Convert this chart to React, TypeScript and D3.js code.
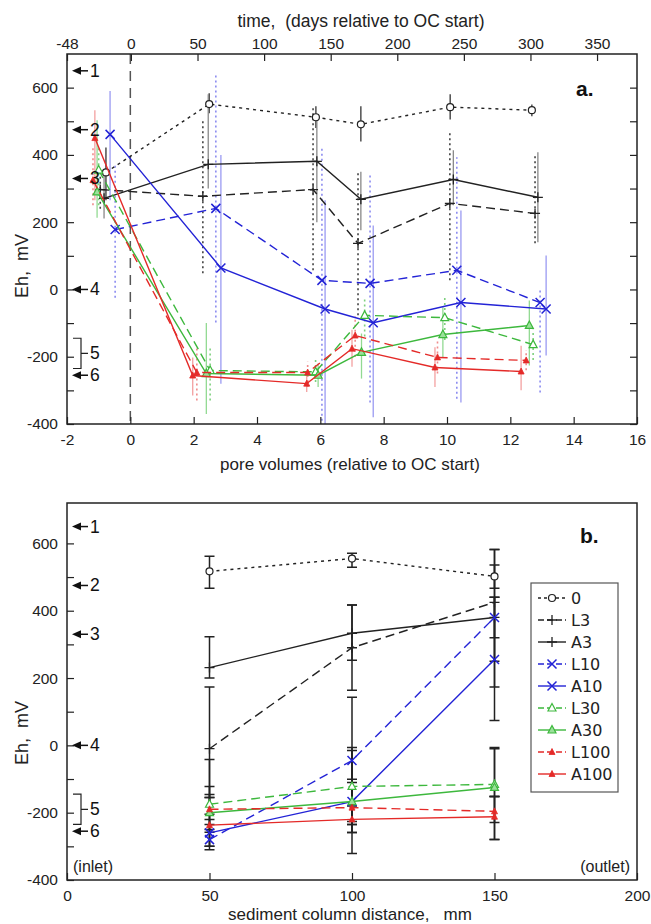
import React, { useEffect, useRef } from 'react';
import * as d3 from 'd3';

const seriesNames = ['0', 'L3', 'A3', 'L10', 'A10', 'L30', 'A30', 'L100', 'A100'];

// panel a: pore volumes and Eh (mV), one row per series
const poreVolumes = [
  [-0.77, 2.49, 5.86, 7.28, 10.1, 12.68],
  [-0.95, 2.29, 5.77, 7.19, 10.09, 12.78],
  [-0.83, 2.46, 5.89, 7.28, 10.2, 12.87],
  [-0.48, 2.7, 6.05, 7.57, 10.31, 12.94],
  [-0.64, 2.86, 6.15, 7.67, 10.44, 13.13],
  [-1.0, 2.52, 5.85, 7.4, 9.93, 12.72],
  [-1.05, 2.4, 5.93, 7.3, 9.87, 12.6],
  [-1.18, 2.1, 5.6, 7.1, 9.7, 12.5],
  [-1.12, 1.97, 5.57, 7.0, 9.62, 12.34],
];
const ehA = [
  [348, 551, 512, 491, 542, 533],
  [297, 277, 297, 137, 256, 226],
  [271, 372, 381, 268, 327, 274],
  [178, 241, 27, 18, 57, -39],
  [461, 64, -58, -99, -39, -58],
  [355, -241, -245, -77, -84, -164],
  [290, -250, -255, -187, -134, -107],
  [325, -247, -247, -137, -202, -211],
  [450, -256, -280, -176, -232, -244],
];
const ehLowA = [
  [265, 524, 480, 440, 505, 515],
  [240, 48, 57, -77, 27, 137],
  [211, 300, 200, 176, 250, 140],
  [-25, -98, -390, -336, -325, -306],
  [265, -280, -400, -380, -336, -196],
  [250, -330, -275, -140, -150, -210],
  [213, -370, -290, -265, -202, -226],
  [250, -330, -290, -200, -250, -240],
  [265, -315, -305, -230, -290, -300],
];
const ehHighA = [
  [422, 583, 545, 545, 580, 550],
  [350, 503, 548, 347, 467, 405],
  [354, 580, 515, 350, 414, 408],
  [370, 637, 423, 348, 393, 0],
  [590, 400, 265, 190, 235, 101],
  [420, -170, -205, -30, -20, -120],
  [503, -100, -220, -131, -53, -33],
  [420, -167, -215, -80, -150, -180],
  [533, -202, -250, -120, -172, -167],
];

const poreTicks = [-2, 0, 2, 4, 6, 8, 10, 12, 14, 16];
const dayTicks = [-48, 0, 50, 100, 150, 200, 250, 300, 350];
const ehTicks = [-400, -300, -200, -100, 0, 100, 200, 300, 400, 500, 600];

// panel b: distance along the column (mm)
const distances = [50, 100, 150];
const distTicks = [0, 50, 100, 150, 200];
const ehB = [
  [517, 555, 502],
  [-10, 290, 425],
  [231, 333, 380],
  [-280, -45, 380],
  [-260, -167, 255],
  [-175, -122, -116],
  [-200, -167, -125],
  [-190, -185, -196],
  [-237, -220, -212],
];
const ehLowB = [
  [467, 529, 467],
  [-155, 164, 250],
  [200, 253, 320],
  [-310, -235, 173],
  [-300, -321, 74],
  [-205, -226, -152],
  [-235, -259, -229],
  [-258, -259, -280],
  [-300, -235, -280],
];
const ehHighB = [
  [562, 571, 536],
  [173, 417, 582],
  [323, 417, 440],
  [-250, 143, 582],
  [-220, -15, 440],
  [-146, -6, -6],
  [-155, -101, -10],
  [-122, -110, -152],
  [-42, -180, -152],
];

// reference Eh levels marked by arrows
const refLevels = [650, 475, 330, 0, -255];
const refLabels = ['1', '2', '3', '4', '6'];
const bracketFive = [-235, -145];

const BLUE = '#2323d6';
const GREEN = '#3db83d';
const RED = '#e42a28';
const styles = [
  { color: '#222', dash: '3,4', marker: 'circle', bar: '#333', barDash: null },
  { color: '#222', dash: '9,5', marker: 'plus', bar: '#444', barDash: '2,3' },
  { color: '#222', dash: null, marker: 'plus', bar: '#888', barDash: null },
  { color: BLUE, dash: '9,5', marker: 'cross', bar: '#8c8cf0', barDash: '2,3' },
  { color: BLUE, dash: null, marker: 'cross', bar: '#9a9af2', barDash: null },
  { color: GREEN, dash: '9,5', marker: 'triOpen', bar: '#7fd07f', barDash: '2,3' },
  { color: GREEN, dash: null, marker: 'triFill', bar: '#92da92', barDash: null },
  { color: RED, dash: '9,5', marker: 'triSmall', bar: '#f08c8c', barDash: '2,3' },
  { color: RED, dash: null, marker: 'triSmall', bar: '#f3a0a0', barDash: null },
];

const FONT = '"Liberation Sans", Arial, sans-serif';

function marker(g: any, kind: string, cx: number, cy: number, color: string) {
  if (kind === 'circle') {
    g.append('circle').attr('cx', cx).attr('cy', cy).attr('r', 3.5)
      .attr('fill', 'white').attr('stroke', color).attr('stroke-width', 1.2);
  } else if (kind === 'plus') {
    g.append('path').attr('d', `M${cx - 5},${cy}H${cx + 5}M${cx},${cy - 5}V${cy + 5}`)
      .attr('stroke', color).attr('stroke-width', 1.3).attr('fill', 'none');
  } else if (kind === 'cross') {
    g.append('path')
      .attr('d', `M${cx - 4.5},${cy - 4.5}L${cx + 4.5},${cy + 4.5}M${cx - 4.5},${cy + 4.5}L${cx + 4.5},${cy - 4.5}`)
      .attr('stroke', color).attr('stroke-width', 1.5).attr('fill', 'none');
  } else if (kind === 'triOpen') {
    g.append('path').attr('d', `M${cx},${cy - 4.5}L${cx + 4},${cy + 3}L${cx - 4},${cy + 3}Z`)
      .attr('fill', 'white').attr('stroke', color).attr('stroke-width', 1.2);
  } else if (kind === 'triFill') {
    g.append('path').attr('d', `M${cx},${cy - 4.5}L${cx + 4},${cy + 3}L${cx - 4},${cy + 3}Z`)
      .attr('fill', '#9be09b').attr('stroke', color).attr('stroke-width', 1.2);
  } else {
    g.append('path').attr('d', `M${cx},${cy - 3.5}L${cx + 3},${cy + 2.5}L${cx - 3},${cy + 2.5}Z`)
      .attr('fill', color).attr('stroke', color).attr('stroke-width', 0.8);
  }
}

// frame, left axis, reference arrows and y title common to both panels
function frameAndLeft(g: any, y: any, x0: number, x1: number, titleY: number) {
  const [yb, yt] = y.range();
  g.append('rect').attr('x', x0).attr('y', yt).attr('width', x1 - x0).attr('height', yb - yt)
    .attr('fill', 'none').attr('stroke', '#222').attr('stroke-width', 1.5);

  const left = g.append('g').attr('transform', `translate(${x0},0)`)
    .call(d3.axisLeft(y).tickValues(ehTicks).tickSizeInner(-7).tickSizeOuter(0).tickPadding(9)
      .tickFormat((d: any) => (d % 200 === 0 ? String(d) : '')));
  left.select('.domain').remove();
  left.selectAll('line').attr('stroke', '#222').attr('stroke-width', 1.2);
  left.selectAll('text').attr('font-size', 15.5).attr('font-family', FONT).attr('fill', '#222');

  refLevels.forEach((v, i) => {
    const yy = y(v);
    g.append('path').attr('d', `M${x0 + 5},${yy}L${x0 + 14},${yy - 4}L${x0 + 14},${yy + 4}Z`).attr('fill', '#111');
    g.append('line').attr('x1', x0 + 13).attr('x2', x0 + 21).attr('y1', yy).attr('y2', yy)
      .attr('stroke', '#111').attr('stroke-width', 1.5);
    g.append('text').attr('x', x0 + 23).attr('y', yy + 6).text(refLabels[i])
      .attr('font-size', 17.5).attr('font-family', FONT).attr('fill', '#111');
  });
  const ya = y(bracketFive[1]);
  const yb5 = y(bracketFive[0]);
  g.append('path').attr('d', `M${x0 + 6},${ya}H${x0 + 14}V${yb5}H${x0 + 6}M${x0 + 14},${(ya + yb5) / 2}H${x0 + 21}`)
    .attr('fill', 'none').attr('stroke', '#222').attr('stroke-width', 1.2);
  g.append('text').attr('x', x0 + 23).attr('y', (ya + yb5) / 2 + 6).text('5')
    .attr('font-size', 17.5).attr('font-family', FONT).attr('fill', '#111');

  g.append('text').attr('transform', `translate(28,${titleY}) rotate(-90)`).attr('text-anchor', 'middle')
    .text('Eh,  mV').attr('font-size', 18).attr('font-family', FONT).attr('fill', '#222')
    .style('white-space', 'pre');
}

function drawChart(node: SVGSVGElement) {
  const svg = d3.select(node);
  svg.selectAll('*').remove();

  // ---------- panel a ----------
  const xa = d3.scaleLinear().domain([-2, 16]).range([67, 637]);
  const xd = d3.scaleLinear().domain([-48, 380]).range([67, 637]);
  const ya = d3.scaleLinear().domain([-400, 700]).range([424, 54]);
  const ga = svg.append('g');

  ga.append('line').attr('x1', xa(0)).attr('x2', xa(0)).attr('y1', 54).attr('y2', 424)
    .attr('stroke', '#555').attr('stroke-width', 1.5).attr('stroke-dasharray', '10,7');

  seriesNames.forEach((_, s) => {
    const st = styles[s];
    poreVolumes[s].forEach((pv, i) => {
      ga.append('line').attr('x1', xa(pv)).attr('x2', xa(pv))
        .attr('y1', ya(Math.max(-400, ehLowA[s][i]))).attr('y2', ya(ehHighA[s][i]))
        .attr('stroke', st.bar).attr('stroke-width', st.barDash ? 1.6 : 1.3)
        .attr('stroke-dasharray', st.barDash);
    });
  });

  seriesNames.forEach((_, s) => {
    const st = styles[s];
    const pts: [number, number][] = poreVolumes[s].map((pv, i) => [xa(pv), ya(ehA[s][i])]);
    ga.append('path').attr('d', d3.line()(pts)).attr('fill', 'none').attr('stroke', st.color)
      .attr('stroke-width', 1.4).attr('stroke-dasharray', st.dash);
    pts.forEach(p => marker(ga, st.marker, p[0], p[1], st.color));
  });

  frameAndLeft(ga, ya, 67, 637, 266);

  const right = ga.append('g').attr('transform', 'translate(637,0)')
    .call(d3.axisRight(ya).tickValues(ehTicks).tickSizeInner(-7).tickSizeOuter(0).tickFormat(() => ''));
  right.select('.domain').remove();
  right.selectAll('line').attr('stroke', '#222').attr('stroke-width', 1.2);

  const bottom = ga.append('g').attr('transform', 'translate(0,424)')
    .call(d3.axisBottom(xa).tickValues(poreTicks).tickSizeInner(-7).tickSizeOuter(0).tickPadding(10)
      .tickFormat((d: any) => String(d)));
  bottom.select('.domain').remove();
  bottom.selectAll('line').attr('stroke', '#222').attr('stroke-width', 1.2);
  bottom.selectAll('text').attr('font-size', 15.5).attr('font-family', FONT).attr('fill', '#222');

  const top = ga.append('g').attr('transform', 'translate(0,54)')
    .call(d3.axisTop(xd).tickValues(dayTicks).tickSizeInner(-7).tickSizeOuter(0).tickPadding(5)
      .tickFormat((d: any) => String(d)));
  top.select('.domain').remove();
  top.selectAll('line').attr('stroke', '#222').attr('stroke-width', 1.2);
  top.selectAll('text').attr('font-size', 15.5).attr('font-family', FONT).attr('fill', '#222');

  ga.append('text').attr('x', 361).attr('y', 27).attr('text-anchor', 'middle').style('white-space', 'pre')
    .text('time,  (days relative to OC start)').attr('font-size', 17.5).attr('font-family', FONT).attr('fill', '#222');
  ga.append('text').attr('x', 350).attr('y', 470).attr('text-anchor', 'middle')
    .text('pore volumes (relative to OC start)').attr('font-size', 17).attr('font-family', FONT).attr('fill', '#222');
  ga.append('text').attr('x', 576).attr('y', 96).text('a.')
    .attr('font-size', 21).attr('font-weight', 'bold').attr('font-family', FONT).attr('fill', '#111');

  // ---------- panel b ----------
  const xb = d3.scaleLinear().domain([0, 200]).range([67, 637]);
  const yb = d3.scaleLinear().domain([-400, 720]).range([880, 503]);
  const gb = svg.append('g');

  seriesNames.forEach((_, s) => {
    distances.forEach((dist, i) => {
      const cx = xb(dist);
      const lo = yb(ehLowB[s][i]);
      const hi = yb(ehHighB[s][i]);
      gb.append('path').attr('d', `M${cx},${lo}V${hi}M${cx - 5},${lo}H${cx + 5}M${cx - 5},${hi}H${cx + 5}`)
        .attr('fill', 'none').attr('stroke', '#222').attr('stroke-width', 1.5);
    });
  });

  seriesNames.forEach((_, s) => {
    const st = styles[s];
    const pts: [number, number][] = distances.map((dist, i) => [xb(dist), yb(ehB[s][i])]);
    gb.append('path').attr('d', d3.line()(pts)).attr('fill', 'none').attr('stroke', st.color)
      .attr('stroke-width', 1.4).attr('stroke-dasharray', st.dash);
    pts.forEach(p => marker(gb, st.marker, p[0], p[1], st.color));
  });

  frameAndLeft(gb, yb, 67, 637, 733);

  const bottomB = gb.append('g').attr('transform', 'translate(0,880)')
    .call(d3.axisBottom(xb).tickValues(distTicks).tickSizeInner(-7).tickSizeOuter(0).tickPadding(10)
      .tickFormat((d: any) => String(d)));
  bottomB.select('.domain').remove();
  bottomB.selectAll('line').attr('stroke', '#222').attr('stroke-width', 1.2);
  bottomB.selectAll('text').attr('font-size', 15.5).attr('font-family', FONT).attr('fill', '#222');

  gb.append('text').attr('x', 350).attr('y', 920).attr('text-anchor', 'middle').style('white-space', 'pre')
    .text('sediment column distance,   mm').attr('font-size', 17).attr('font-family', FONT).attr('fill', '#222');
  gb.append('text').attr('x', 580).attr('y', 543).text('b.')
    .attr('font-size', 21).attr('font-weight', 'bold').attr('font-family', FONT).attr('fill', '#111');
  gb.append('text').attr('x', 73).attr('y', 872).text('(inlet)')
    .attr('font-size', 16).attr('font-family', FONT).attr('fill', '#222');
  gb.append('text').attr('x', 630).attr('y', 872).attr('text-anchor', 'end').text('(outlet)')
    .attr('font-size', 16).attr('font-family', FONT).attr('fill', '#222');

  // legend
  const lg = gb.append('g');
  lg.append('rect').attr('x', 531).attr('y', 583).attr('width', 87).attr('height', 209)
    .attr('fill', 'white').attr('stroke', '#555').attr('stroke-width', 1.2);
  seriesNames.forEach((name, s) => {
    const st = styles[s];
    const yy = 598 + s * 22;
    lg.append('line').attr('x1', 538).attr('x2', 566).attr('y1', yy).attr('y2', yy)
      .attr('stroke', st.color).attr('stroke-width', 1.4).attr('stroke-dasharray', st.dash ? (s === 0 ? '3,3' : '6,3') : null);
    marker(lg, st.marker, 552, yy, st.color);
    lg.append('text').attr('x', 571).attr('y', yy + 6).text(name)
      .attr('font-size', 16).attr('font-family', '"DejaVu Sans", sans-serif').attr('fill', '#222');
  });
}

export default function App() {
  const ref = useRef<SVGSVGElement>(null);
  useEffect(() => {
    if (ref.current) drawChart(ref.current);
  }, []);
  return (
    <svg ref={ref} width={651} height={924}
      style={{ position: 'absolute', left: 0, top: 0, background: 'white' }} />
  );
}
